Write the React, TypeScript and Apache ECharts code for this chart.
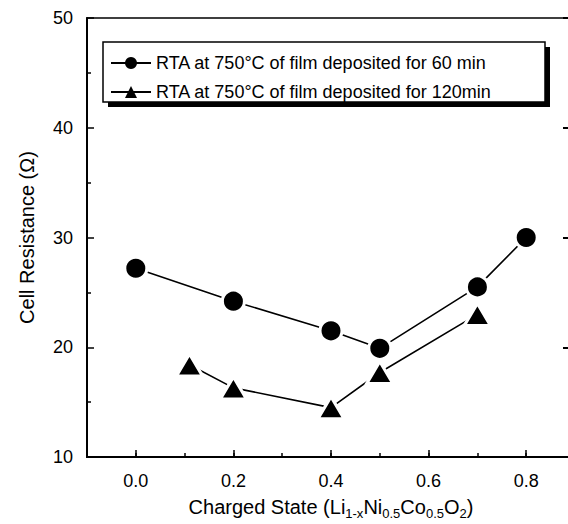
import React, { useEffect, useRef } from "react";
import * as echarts from "echarts";

const series60Name = "RTA at 750\u00B0C of film deposited for 60 min";
const series120Name = "RTA at 750\u00B0C of film deposited for 120min";

const circleX = [0.0, 0.2, 0.4, 0.5, 0.7, 0.8];
const circleY = [27.2, 24.2, 21.5, 19.9, 25.5, 30.0];

const triX = [0.11, 0.2, 0.4, 0.5, 0.7];
const triY = [18.4, 16.3, 14.5, 17.7, 23.0];

const xMajorTicks = [0.0, 0.2, 0.4, 0.6, 0.8];

const FONT = "'Liberation Sans', Arial, Helvetica, sans-serif";

export default function App() {
  const ref = useRef<HTMLDivElement>(null);

  useEffect(() => {
    document.body.style.margin = "0";
    document.body.style.overflow = "hidden";
    if (!ref.current) return;
    const chart = echarts.init(ref.current, null, { renderer: "svg" });

    const circleData = circleX.map((x, i) => [x, circleY[i]]);
    const triData = triX.map((x, i) => [x, triY[i]]);

    const axisLineStyle = { color: "#000", width: 2 };

    chart.setOption({
      animation: false,
      backgroundColor: "#fff",
      textStyle: { fontFamily: FONT, color: "#000" },
      grid: {
        left: 87,
        top: 18,
        right: -7,
        bottom: 67,
        show: true,
        borderColor: "#000",
        borderWidth: 1.5,
        containLabel: false,
        outerBoundsMode: "none",
      },
      graphic: [
        {
          type: "rect",
          z: 5,
          shape: { x: 108, y: 47, width: 442, height: 60 },
          style: { fill: "#000" },
          silent: true,
        },
        {
          type: "rect",
          z: 6,
          shape: { x: 103, y: 42, width: 442, height: 60 },
          style: { fill: "#fff", stroke: "#000", lineWidth: 1.5 },
          silent: true,
        },
      ],
      legend: {
        orient: "vertical",
        left: 110,
        top: 54,
        padding: 0,
        z: 10,
        itemWidth: 40,
        itemHeight: 15,
        itemGap: 11,
        backgroundColor: "transparent",
        itemStyle: { borderWidth: 0 },
        lineStyle: { width: 2 },
        textStyle: { fontFamily: FONT, fontSize: 18, color: "#000" },
        data: [series60Name, series120Name],
      },
      xAxis: [
        {
          type: "value",
          min: -0.1,
          max: 0.9,
          position: "bottom",
          name: "Charged State (Li{s|1-x}Ni{s|0.5}Co{s|0.5}O{s|2})",
          nameLocation: "middle",
          nameGap: 36,
          nameTextStyle: {
            fontFamily: FONT,
            fontSize: 20,
            color: "#000",
            rich: {
              s: { fontFamily: FONT, fontSize: 13, color: "#000", padding: [14, 0, 0, 0] },
            },
          },
          axisLine: { show: true, onZero: false, lineStyle: axisLineStyle },
          axisTick: {
            show: true,
            inside: true,
            length: 7,
            customValues: xMajorTicks,
            lineStyle: { color: "#000", width: 1.5 },
          },
          axisLabel: {
            show: true,
            customValues: xMajorTicks,
            margin: 15,
            fontSize: 18,
            fontFamily: FONT,
            color: "#000",
            formatter: (v: number) => v.toFixed(1),
          },
          splitLine: { show: false },
        },
        {
          type: "value",
          min: -0.1,
          max: 0.9,
          interval: 0.1,
          position: "bottom",
          axisLine: { show: true, onZero: false, lineStyle: axisLineStyle },
          axisTick: {
            show: true,
            inside: true,
            length: 4,
            lineStyle: { color: "#000", width: 1.5 },
          },
          axisLabel: { show: false },
          splitLine: { show: false },
        },
      ],
      yAxis: [
        {
          type: "value",
          min: 10,
          max: 50,
          interval: 10,
          position: "left",
          name: "Cell Resistance (\u03A9)",
          nameLocation: "middle",
          nameGap: 50,
          nameTextStyle: { fontFamily: FONT, fontSize: 20, color: "#000" },
          axisLine: { show: true, onZero: false, lineStyle: axisLineStyle },
          axisTick: { show: true, inside: true, length: 7, lineStyle: { color: "#000", width: 1.5 } },
          minorTick: { show: true, splitNumber: 2, length: 4, lineStyle: { color: "#000", width: 1.5 } },
          axisLabel: { show: true, margin: 14, fontSize: 18, fontFamily: FONT, color: "#000" },
          splitLine: { show: false },
        },
        {
          type: "value",
          min: 10,
          max: 50,
          interval: 10,
          position: "right",
          axisLine: { show: true, onZero: false, lineStyle: axisLineStyle },
          axisTick: {
            show: true,
            inside: true,
            length: 12,
            lineStyle: { color: "#000", width: 2 },
          },
          axisLabel: { show: false },
          splitLine: { show: false },
        },
      ],
      series: [
        {
          name: series60Name,
          type: "line",
          xAxisIndex: 0,
          yAxisIndex: 0,
          data: circleData,
          symbol: "circle",
          symbolSize: 22,
          lineStyle: { color: "#000", width: 1.6 },
          itemStyle: { color: "#000", borderColor: "#fff", borderWidth: 3 },
          emphasis: { disabled: true },
          z: 3,
        },
        {
          name: series120Name,
          type: "line",
          xAxisIndex: 0,
          yAxisIndex: 0,
          data: triData,
          symbol: "triangle",
          symbolSize: [26, 22],
          lineStyle: { color: "#000", width: 1.6 },
          itemStyle: { color: "#000", borderColor: "#fff", borderWidth: 3 },
          emphasis: { disabled: true },
          z: 2,
        },
      ],
    });

    return () => {
      chart.dispose();
    };
  }, []);

  return <div ref={ref} style={{ width: 568, height: 524 }} />;
}
